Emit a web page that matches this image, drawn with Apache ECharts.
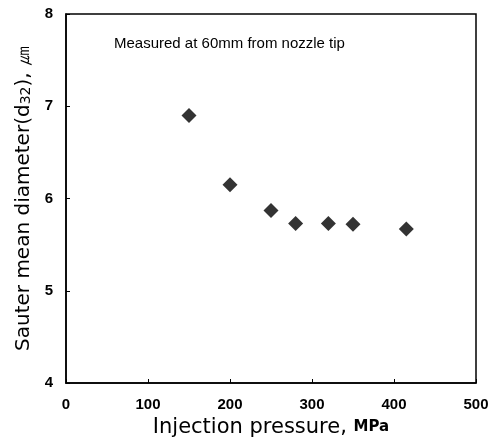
<!DOCTYPE html>
<html>
<head>
<meta charset="utf-8">
<script src="https://cdn.jsdelivr.net/npm/echarts@6/dist/echarts.min.js"></script>
<style>
  html, body { margin: 0; padding: 0; background: #fff; }
  #chart { width: 498px; height: 440px; }
</style>
</head>
<body>
<div id="chart"></div>
<script>
  // injection pressure (MPa) vs Sauter mean diameter (um)
  var pressure = [150, 200, 250, 280, 320, 350, 415];
  var smd = [6.90, 6.15, 5.87, 5.73, 5.73, 5.72, 5.67];
  var note = 'Measured at 60mm from nozzle tip';

  var points = pressure.map(function (p, i) { return [p, smd[i]]; });

  var myChart = echarts.init(document.getElementById('chart'));
  var option = {
    animation: false,
    title: {
      text: note,
      left: 109,
      top: 31,
      textStyle: {
        fontFamily: '"Liberation Sans", sans-serif',
        fontSize: 15,
        fontWeight: 'normal',
        color: '#000'
      }
    },
    grid: {
      left: 66,
      top: 14,
      right: 22,
      bottom: 57,
      outerBoundsMode: 'none',
      containLabel: false,
      show: true,
      borderColor: '#000',
      borderWidth: 1.5
    },
    xAxis: {
      type: 'value',
      min: 0,
      max: 500,
      interval: 100,
      name: 'Injection pressure, {u|MPa}',
      nameLocation: 'middle',
      nameGap: 22,
      nameTextStyle: {
        fontFamily: '"DejaVu Sans", sans-serif',
        fontSize: 21,
        color: '#000',
        rich: {
          u: { fontFamily: '"DejaVu Sans", sans-serif', fontSize: 15, fontWeight: 'bold', color: '#000' }
        }
      },
      axisLine: { lineStyle: { color: '#000', width: 1.5 } },
      axisTick: { inside: true, length: 4, lineStyle: { color: '#000' } },
      axisLabel: {
        margin: 14,
        fontFamily: '"Liberation Sans", sans-serif',
        fontWeight: 'bold',
        fontSize: 15,
        color: '#000'
      },
      splitLine: { show: false }
    },
    yAxis: {
      type: 'value',
      min: 4,
      max: 8,
      interval: 1,
      name: 'Sauter mean diameter(d{s|32}), ㎛',
      nameLocation: 'middle',
      nameRotate: 90,
      nameGap: 29,
      nameTextStyle: {
        fontFamily: '"DejaVu Sans", sans-serif',
        fontSize: 20,
        color: '#000',
        rich: {
          s: { fontFamily: '"DejaVu Sans", sans-serif', fontSize: 14, verticalAlign: 'bottom', color: '#000' }
        }
      },
      axisLine: { lineStyle: { color: '#000', width: 1.5 } },
      axisTick: { inside: true, length: 4, lineStyle: { color: '#000' } },
      axisLabel: {
        margin: 13,
        fontFamily: '"Liberation Sans", sans-serif',
        fontWeight: 'bold',
        fontSize: 15,
        color: '#000'
      },
      splitLine: { show: false }
    },
    series: [{
      type: 'scatter',
      symbol: 'diamond',
      symbolSize: 15,
      itemStyle: { color: '#000' },
      data: points
    }]
  };
  myChart.setOption(option);
</script>
</body>
</html>
